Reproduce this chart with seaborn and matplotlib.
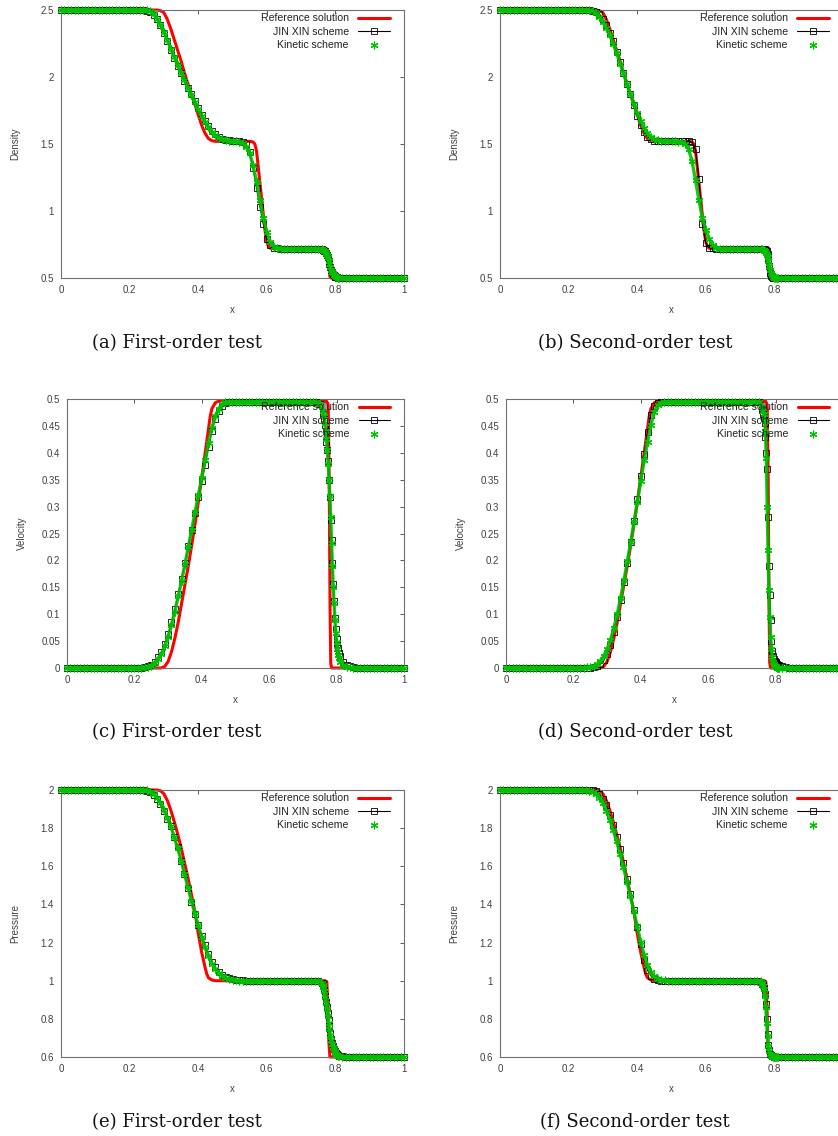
import numpy as np
import matplotlib
matplotlib.use("Agg")
import matplotlib.pyplot as plt
import seaborn as sns
from matplotlib.ticker import FuncFormatter

# ---------------- data ----------------
# sample positions of the two numerical schemes (finer around the shock)
X_SCHEME = np.round(np.concatenate([np.arange(0, 0.765, 0.01),
                                    np.arange(0.7625, 0.8101, 0.0025),
                                    np.arange(0.82, 1.0001, 0.01)]), 4)

# reference solution (drawn as a line)
x_ref_rho = [0, 0.28, 0.29, 0.30, 0.31, 0.32, 0.33, 0.34, 0.35, 0.36, 0.37, 0.38, 0.39, 0.40, 0.41,
             0.42, 0.43, 0.44, 0.45, 0.46, 0.55, 0.56, 0.565, 0.57, 0.575, 0.58, 0.585, 0.59, 0.595,
             0.60, 0.605, 0.61, 0.62, 0.77, 0.775, 0.778, 0.781, 0.784, 0.787, 1.0]
rho_ref = [2.5, 2.5, 2.495, 2.48, 2.43, 2.36, 2.28, 2.20, 2.12, 2.03, 1.95, 1.87, 1.80, 1.72, 1.64,
           1.58, 1.54, 1.525, 1.52, 1.52, 1.52, 1.515, 1.50, 1.45, 1.33, 1.21, 1.09, 0.97, 0.85,
           0.77, 0.735, 0.722, 0.72, 0.72, 0.718, 0.70, 0.60, 0.51, 0.5, 0.5]

x_ref_u = [0, 0.28, 0.29, 0.30, 0.31, 0.32, 0.33, 0.34, 0.35, 0.36, 0.37, 0.38, 0.39, 0.40, 0.41,
           0.42, 0.425, 0.43, 0.44, 0.45, 0.46, 0.77, 0.775, 0.778, 0.7805, 0.7825, 0.785, 1.0]
u_ref = [0, 0, 0.003, 0.012, 0.03, 0.055, 0.085, 0.12, 0.155, 0.19, 0.228, 0.268, 0.31, 0.355, 0.40,
         0.445, 0.468, 0.482, 0.493, 0.496, 0.497, 0.496, 0.49, 0.35, 0.12, 0.01, 0, 0]

x_ref_p = [0, 0.28, 0.29, 0.30, 0.31, 0.32, 0.33, 0.34, 0.35, 0.36, 0.37, 0.38, 0.39, 0.40, 0.41,
           0.42, 0.425, 0.43, 0.44, 0.45, 0.77, 0.775, 0.778, 0.781, 0.784, 1.0]
p_ref = [2.0, 2.0, 1.996, 1.98, 1.945, 1.895, 1.835, 1.77, 1.70, 1.62, 1.54, 1.455, 1.365, 1.25, 1.15,
         1.07, 1.035, 1.015, 1.004, 1.0, 1.0, 0.995, 0.88, 0.68, 0.6, 0.6]

# density, first order
rho1_jx = ([2.5] * 25 +
           [2.495, 2.485, 2.465, 2.43, 2.385, 2.33, 2.27, 2.20, 2.14, 2.08, 2.03, 1.97, 1.92, 1.87,
            1.82, 1.77, 1.72, 1.675, 1.635, 1.60, 1.575, 1.555, 1.54, 1.532, 1.527, 1.524] +
           [1.522, 1.52, 1.515, 1.50, 1.44, 1.32, 1.17, 1.03, 0.90, 0.79, 0.745, 0.727, 0.722] +
           [0.72] * 11 + [0.718, 0.714] +
           [0.712, 0.71, 0.705, 0.70, 0.69, 0.675, 0.655, 0.63, 0.605, 0.58, 0.56, 0.545, 0.532,
            0.522, 0.515, 0.51, 0.507, 0.504, 0.502, 0.501] +
           [0.5] * 19)
rho1_kin = ([2.5] * 25 +
            [2.497, 2.49, 2.47, 2.435, 2.39, 2.335, 2.275, 2.21, 2.15, 2.09, 2.03, 1.975, 1.92, 1.865,
             1.81, 1.76, 1.71, 1.665, 1.625, 1.59, 1.565, 1.548, 1.537, 1.53, 1.525, 1.522] +
            [1.52, 1.518, 1.51, 1.48, 1.43, 1.34, 1.22, 1.08, 0.95, 0.84, 0.77, 0.735, 0.725] +
            [0.72] * 11 + [0.718, 0.713] +
            [0.711, 0.708, 0.704, 0.698, 0.688, 0.673, 0.653, 0.63, 0.606, 0.583, 0.563, 0.547, 0.534,
             0.524, 0.517, 0.512, 0.508, 0.505, 0.503, 0.501] +
            [0.5] * 19)

# density, second order
rho2_jx = ([2.5] * 25 +
           [2.5, 2.499, 2.495, 2.487, 2.47, 2.435, 2.39, 2.33, 2.265, 2.19, 2.11, 2.03, 1.95, 1.87,
            1.79, 1.71, 1.645, 1.59, 1.555, 1.535, 1.525, 1.521, 1.52, 1.52, 1.52, 1.52] +
           [1.52, 1.52, 1.52, 1.52, 1.519, 1.512, 1.46, 1.24, 0.90, 0.76, 0.727, 0.721, 0.72] +
           [0.72] * 11 + [0.72, 0.72] +
           [0.72, 0.719, 0.718, 0.716, 0.713, 0.708, 0.70, 0.68, 0.645, 0.59, 0.54, 0.515, 0.505,
            0.501, 0.5, 0.5, 0.5, 0.5, 0.5, 0.5] +
           [0.5] * 19)
rho2_kin = ([2.5] * 25 +
            [2.5, 2.497, 2.49, 2.475, 2.45, 2.41, 2.365, 2.31, 2.25, 2.18, 2.10, 2.03, 1.95, 1.875,
             1.80, 1.73, 1.67, 1.62, 1.58, 1.555, 1.537, 1.528, 1.523, 1.521, 1.52, 1.52] +
            [1.52, 1.518, 1.513, 1.50, 1.46, 1.37, 1.23, 1.08, 0.95, 0.86, 0.79, 0.745, 0.727] +
            [0.72] * 11 + [0.719, 0.718] +
            [0.716, 0.714, 0.711, 0.707, 0.70, 0.69, 0.675, 0.655, 0.625, 0.59, 0.56, 0.537, 0.52,
             0.51, 0.505, 0.502, 0.501, 0.5, 0.5, 0.5] +
            [0.5] * 19)

# velocity, first order
u1_jx = ([0.0] * 23 + [0.001, 0.003] +
         [0.006, 0.012, 0.02, 0.03, 0.045, 0.063, 0.085, 0.11, 0.137, 0.165, 0.195, 0.226, 0.257, 0.288,
          0.318, 0.348, 0.378, 0.41, 0.44, 0.463, 0.478, 0.487, 0.492, 0.494, 0.495, 0.495] +
         [0.495] * 23 + [0.494, 0.49, 0.472] +
         [0.463, 0.452, 0.44, 0.42, 0.405, 0.385, 0.35, 0.318, 0.275, 0.237, 0.195, 0.157, 0.124,
          0.093, 0.072, 0.053, 0.045, 0.038, 0.028, 0.022] +
         [0.012, 0.006, 0.003, 0.001] + [0.0] * 15)
u1_kin = ([0.0] * 23 + [0.001, 0.002] +
          [0.004, 0.009, 0.016, 0.026, 0.04, 0.058, 0.08, 0.105, 0.133, 0.162, 0.193, 0.225, 0.257, 0.29,
           0.322, 0.354, 0.386, 0.418, 0.447, 0.468, 0.482, 0.49, 0.494, 0.495, 0.495, 0.495] +
          [0.495] * 23 + [0.494, 0.491, 0.478] +
          [0.468, 0.455, 0.44, 0.425, 0.405, 0.38, 0.35, 0.32, 0.28, 0.232, 0.19, 0.15, 0.12,
           0.09, 0.065, 0.048, 0.035, 0.025, 0.018, 0.012] +
          [0.005, 0.002, 0.001] + [0.0] * 16)

# velocity, second order
u2_jx = ([0.0] * 25 +
         [0.0, 0.001, 0.003, 0.007, 0.014, 0.026, 0.043, 0.066, 0.094, 0.126, 0.16, 0.196, 0.234, 0.273,
          0.314, 0.356, 0.398, 0.438, 0.47, 0.487, 0.493, 0.495, 0.495, 0.495, 0.495, 0.495] +
         [0.495] * 24 + [0.494, 0.48] +
         [0.472, 0.465, 0.455, 0.43, 0.40, 0.37, 0.28, 0.19, 0.135, 0.09, 0.05, 0.032, 0.022,
          0.017, 0.013, 0.011, 0.009, 0.007, 0.006, 0.005] +
         [0.003, 0.001] + [0.0] * 17)
u2_kin = ([0.0] * 24 + [0.001] +
          [0.001, 0.003, 0.007, 0.013, 0.022, 0.035, 0.052, 0.074, 0.10, 0.13, 0.163, 0.198, 0.234, 0.271,
           0.309, 0.348, 0.386, 0.42, 0.452, 0.475, 0.488, 0.493, 0.495, 0.495, 0.495, 0.495] +
          [0.495] * 24 + [0.495, 0.485] +
          [0.478, 0.472, 0.46, 0.44, 0.39, 0.30, 0.22, 0.145, 0.095, 0.058, 0.035, 0.02, 0.012,
           0.007, 0.004, 0.002, 0.001, 0.0, 0.0, 0.0] +
          [0.0] * 19)

# pressure, first order
p1_jx = ([2.0] * 25 +
         [1.997, 1.99, 1.975, 1.955, 1.925, 1.89, 1.85, 1.81, 1.755, 1.70, 1.63, 1.56, 1.485, 1.415,
          1.35, 1.29, 1.235, 1.185, 1.14, 1.10, 1.07, 1.045, 1.03, 1.02, 1.013, 1.008] +
         [1.005, 1.003, 1.002, 1.001] + [1.0] * 20 + [0.998, 0.99] +
         [0.982, 0.97, 0.95, 0.92, 0.89, 0.86, 0.83, 0.795, 0.76, 0.725, 0.695, 0.672, 0.656,
          0.644, 0.634, 0.626, 0.619, 0.614, 0.61, 0.607] +
         [0.603, 0.601] + [0.6] * 17)
p1_kin = ([2.0] * 25 +
          [1.998, 1.992, 1.98, 1.96, 1.932, 1.895, 1.855, 1.81, 1.755, 1.695, 1.63, 1.56, 1.49, 1.42,
           1.355, 1.29, 1.23, 1.175, 1.13, 1.09, 1.06, 1.04, 1.025, 1.015, 1.008, 1.004] +
          [1.002, 1.001, 1.0, 1.0] + [1.0] * 20 + [0.998, 0.99] +
          [0.98, 0.965, 0.945, 0.915, 0.885, 0.85, 0.815, 0.78, 0.745, 0.715, 0.69, 0.67, 0.653,
           0.64, 0.63, 0.622, 0.615, 0.61, 0.606, 0.604] +
          [0.602, 0.601] + [0.6] * 17)

# pressure, second order
p2_jx = ([2.0] * 25 +
         [2.0, 2.0, 1.998, 1.993, 1.98, 1.955, 1.92, 1.87, 1.815, 1.755, 1.69, 1.615, 1.535, 1.455,
          1.37, 1.28, 1.19, 1.11, 1.055, 1.025, 1.01, 1.004, 1.001, 1.0, 1.0, 1.0] +
         [1.0] * 25 + [0.995] +
         [0.99, 0.985, 0.975, 0.96, 0.93, 0.88, 0.80, 0.72, 0.665, 0.635, 0.618, 0.609, 0.605,
          0.603, 0.602, 0.601, 0.6, 0.6, 0.6, 0.6] +
         [0.6] * 19)
p2_kin = ([2.0] * 25 +
          [2.0, 1.997, 1.99, 1.978, 1.96, 1.93, 1.89, 1.845, 1.79, 1.73, 1.665, 1.595, 1.52, 1.445,
           1.365, 1.285, 1.205, 1.135, 1.08, 1.045, 1.023, 1.011, 1.005, 1.002, 1.0, 1.0] +
          [1.0] * 25 + [0.996] +
          [0.99, 0.982, 0.97, 0.955, 0.92, 0.86, 0.78, 0.71, 0.66, 0.63, 0.615, 0.607, 0.603,
           0.601, 0.6, 0.6, 0.6, 0.6, 0.6, 0.6] +
          [0.6] * 19)

for s in (rho1_jx, rho1_kin, rho2_jx, rho2_kin, u1_jx, u1_kin, u2_jx, u2_kin,
          p1_jx, p1_kin, p2_jx, p2_kin):
    assert len(s) == len(X_SCHEME), len(s)

X_TICKS = [0, 0.2, 0.4, 0.6, 0.8, 1.0]
RHO_TICKS = [0.5, 1.0, 1.5, 2.0, 2.5]
U_TICKS = [0, 0.05, 0.1, 0.15, 0.2, 0.25, 0.3, 0.35, 0.4, 0.45, 0.5]
P_TICKS = [0.6, 0.8, 1.0, 1.2, 1.4, 1.6, 1.8, 2.0]

CAPTIONS = ["(a) First-order test", "(b) Second-order test",
            "(c) First-order test", "(d) Second-order test",
            "(e) First-order test", "(f) Second-order test"]

# ---------------- style ----------------
sns.set_style("white")
plt.rcParams["font.family"] = ["Liberation Sans", "DejaVu Sans"]

W, H = 838, 1136
fig = plt.figure(figsize=(W / 100, H / 100), dpi=100)


def rect(left, top, right, bottom):
    return [left / W, 1 - bottom / H, (right - left) / W, (bottom - top) / H]


RED = "#ff0000"
GREEN = "#00c000"
GREY = "#404040"

panels = [
    (rect(61, 10, 404, 278), x_ref_rho, rho_ref, rho1_jx, rho1_kin, (0.5, 2.5), RHO_TICKS, "Density"),
    (rect(500, 10, 843, 278), x_ref_rho, rho_ref, rho2_jx, rho2_kin, (0.5, 2.5), RHO_TICKS, "Density"),
    (rect(67, 399, 404, 668), x_ref_u, u_ref, u1_jx, u1_kin, (0, 0.5), U_TICKS, "Velocity"),
    (rect(506, 399, 843, 668), x_ref_u, u_ref, u2_jx, u2_kin, (0, 0.5), U_TICKS, "Velocity"),
    (rect(61, 790, 404, 1057), x_ref_p, p_ref, p1_jx, p1_kin, (0.6, 2.0), P_TICKS, "Pressure"),
    (rect(500, 790, 843, 1057), x_ref_p, p_ref, p2_jx, p2_kin, (0.6, 2.0), P_TICKS, "Pressure"),
]


def make_fmt(hide_one):
    def f(v, pos):
        if hide_one and abs(v - 1.0) < 1e-9:
            return ""
        return "%g" % round(v, 4)
    return FuncFormatter(f)


for i, (r, xr, yr, yjx, ykin, ylim, yticks, ylab) in enumerate(panels):
    ax = fig.add_axes(r)
    right_col = (i % 2 == 1)
    sns.lineplot(x=xr, y=yr, ax=ax, color=RED, lw=2.2, label="Reference solution",
                 estimator=None, sort=False, zorder=2, clip_on=False)
    sns.lineplot(x=X_SCHEME, y=yjx, ax=ax, color="black", lw=0.8, marker="s", markersize=4,
                 markerfacecolor="none", markeredgecolor="black", markeredgewidth=0.6,
                 label="JIN XIN scheme", estimator=None, sort=False, zorder=3, clip_on=False)
    # dense green symbols merge into a band: connect them underneath
    sns.lineplot(x=X_SCHEME, y=ykin, ax=ax, color=GREEN, lw=2.4, alpha=0.9,
                 estimator=None, sort=False, zorder=4, clip_on=False, legend=False)
    sns.scatterplot(x=X_SCHEME, y=ykin, ax=ax, marker=(6, 2, 0), s=24, color=GREEN,
                    linewidth=0.9, label="Kinetic scheme", zorder=5, clip_on=False)
    ax.set_xlim(0, 1)
    ax.set_ylim(*ylim)
    ax.set_xticks(X_TICKS)
    ax.set_yticks(yticks)
    ax.xaxis.set_major_formatter(make_fmt(right_col))
    ax.yaxis.set_major_formatter(make_fmt(False))
    ax.tick_params(direction="in", length=3, width=0.6, top=True, right=True,
                   color=GREY, labelcolor=GREY, labelsize=7, pad=5)
    for sp in ax.spines.values():
        sp.set_color("#707070")
        sp.set_linewidth(0.8)
    ax.set_xlabel("x", fontsize=7, color=GREY)
    ax.set_ylabel(ylab, fontsize=7, color=GREY)
    ax.xaxis.set_label_coords(0.5, -0.10)
    ax.yaxis.set_label_coords(-0.12, 0.5)
    ax.legend(loc="upper right", bbox_to_anchor=(0.959, 0.987), frameon=False, markerfirst=False,
              handlelength=3.0, handletextpad=0.9, borderpad=0, borderaxespad=0,
              labelspacing=0.3, fontsize=7.6, labelcolor="#222222")

cap_pos = [(177, 343), (635, 343), (177, 732), (635, 732), (177, 1122), (635, 1122)]
for txt, (cx, cy) in zip(CAPTIONS, cap_pos):
    fig.text(cx / W, 1 - cy / H, txt, ha="center", va="center", fontsize=13,
             family=["DejaVu Serif"], color="#111111")

fig.savefig("out.png", dpi=100)
